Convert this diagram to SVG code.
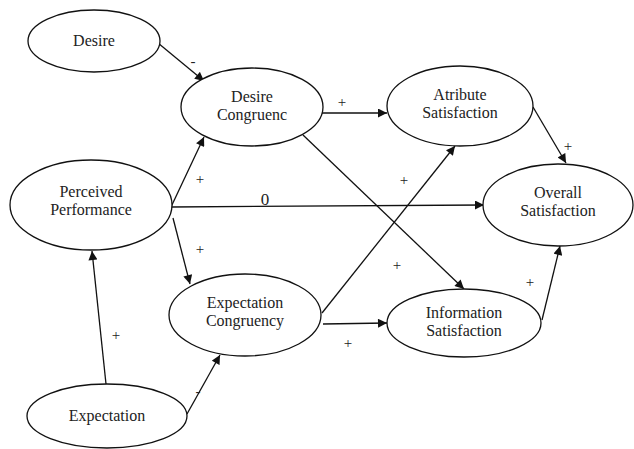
<svg xmlns="http://www.w3.org/2000/svg" width="634" height="449" viewBox="0 0 634 449">
<style>
.n ellipse{fill:#fff;stroke:#111;stroke-width:1.3}
text{font-family:'Liberation Serif','Times New Roman',serif;font-size:15px;fill:#222;text-anchor:middle}
.n text{font-size:16px}
.e line{stroke:#111;stroke-width:1.3;marker-end:url(#ah)}
</style>
<defs>
<marker id="ah" viewBox="0 0 10 10" refX="10" refY="5" markerWidth="10" markerHeight="9" markerUnits="userSpaceOnUse" orient="auto">
<path d="M0,0L10,5L0,10z" fill="#111"/>
</marker>
</defs>
<g class="e">
<line x1="158" y1="43" x2="204" y2="81"/>
<line x1="171" y1="207" x2="204" y2="137"/>
<line x1="171" y1="207" x2="484" y2="205"/>
<line x1="173" y1="218" x2="190" y2="284"/>
<line x1="106" y1="384" x2="92" y2="251"/>
<line x1="187" y1="414" x2="220" y2="355"/>
<line x1="322" y1="113" x2="387" y2="113"/>
<line x1="303" y1="135" x2="464" y2="289"/>
<line x1="322" y1="313" x2="455" y2="146"/>
<line x1="323" y1="324" x2="387" y2="323"/>
<line x1="533" y1="107" x2="566" y2="163"/>
<line x1="542" y1="320" x2="560" y2="246"/>
</g>
<g>
<text x="193" y="66">-</text>
<text x="200" y="184">+</text>
<text x="265" y="205" style="font-size:17px">0</text>
<text x="200" y="254">+</text>
<text x="116" y="340">+</text>
<text x="198" y="396">-</text>
<text x="342" y="107">+</text>
<text x="404" y="185">+</text>
<text x="397" y="270">+</text>
<text x="348" y="348">+</text>
<text x="568" y="151">+</text>
<text x="530" y="287">+</text>
</g>
<g id="desire" class="n"><ellipse cx="94" cy="41" rx="66" ry="31"/><text x="94" y="46">Desire</text></g>
<g id="desire-congruenc" class="n"><ellipse cx="252" cy="107" rx="71" ry="39"/><text x="252" y="102">Desire</text><text x="252" y="120">Congruenc</text></g>
<g id="perceived-performance" class="n"><ellipse cx="91" cy="205" rx="81" ry="45"/><text x="91" y="197">Perceived</text><text x="91" y="215">Performance</text></g>
<g id="expectation-congruency" class="n"><ellipse cx="245" cy="315" rx="76" ry="41"/><text x="245" y="308">Expectation</text><text x="245" y="326">Congruency</text></g>
<g id="expectation" class="n"><ellipse cx="107" cy="416" rx="80" ry="32"/><text x="107" y="421">Expectation</text></g>
<g id="atribute-satisfaction" class="n"><ellipse cx="460" cy="106" rx="73" ry="40"/><text x="460" y="100">Atribute</text><text x="460" y="118">Satisfaction</text></g>
<g id="overall-satisfaction" class="n"><ellipse cx="558" cy="205" rx="75" ry="41"/><text x="558" y="198">Overall</text><text x="558" y="216">Satisfaction</text></g>
<g id="information-satisfaction" class="n"><ellipse cx="464" cy="323" rx="77" ry="34"/><text x="464" y="318">Information</text><text x="464" y="336">Satisfaction</text></g>
</svg>
